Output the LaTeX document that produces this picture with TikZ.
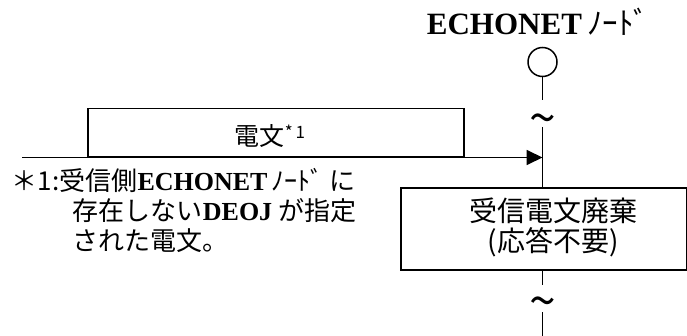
\documentclass[tikz,border=0pt]{standalone}
\usepackage{fontspec}
\setmainfont{Liberation Serif}
\newfontfamily\jp{Noto Sans CJK JP}
\usetikzlibrary{arrows.meta}
\begin{document}
\begin{tikzpicture}[x=1pt,y=-1pt,line width=1.8pt,
  lbl/.style={inner sep=0pt},
  tildemark/.style={inner sep=0pt,font=\jp\fontsize{48}{48}\selectfont},
  notetext/.style={inner sep=0pt,anchor=base west,font=\jp\fontsize{26}{26}\selectfont}]
\useasboundingbox (0,0) rectangle (687,336);
% title
\node[lbl,anchor=base,font=\fontsize{31}{31}\selectfont] (title) at (538,35)
  {\textbf{ECHONET}\,{\jp ﾉｰﾄﾞ}};
% node circle
\node[circle,draw,minimum size=29pt,inner sep=0pt,line width=1.5pt] (obj) at (542.5,62) {};
% lifeline parts
\coordinate (l1) at (542.5,100);
\node[tildemark] (t1) at (542.5,125) {\char"7E};
\coordinate (l2) at (542.5,127);
\node[draw,minimum width=286pt,minimum height=82pt,anchor=north west,inner sep=0pt] (discard) at (400,187) {};
\node[lbl,align=center,font=\jp\fontsize{28}{30}\selectfont] (discardtxt) at (553,227)
  {受信電文廃棄\\(応答不要)};
\coordinate (l4) at (542.5,269);
\coordinate (l5) at (542.5,285);
\node[tildemark] (t2) at (542.5,308) {\char"7E};
\coordinate (l6) at (542.5,312);
\coordinate (l7) at (542.5,336);
\draw (obj.south) -- (l1);
\draw (l2) -- (discard.north -| l2);
\draw (discard.south -| l4) -- (l5);
\draw (l6) -- (l7);
% message
\node[draw,minimum width=376pt,minimum height=48pt,anchor=south west,inner sep=0pt] (msg) at (87,157.5) {};
\node[lbl,font=\jp\fontsize{25}{25}\selectfont] (msgtxt) at (270,136)
  {電文\raisebox{0.3em}{\fontsize{17}{17}\selectfont *\,1}};
\coordinate (a0) at (22,157.5);
\draw[-{Triangle[length=16pt,width=15pt]}] (a0) -- (a0 -| l2);
% footnote
\node[notetext] (n1) at (11,191) {＊1:受信側{\rmfamily\bfseries ECHONET}\,ﾉｰﾄﾞ\ に};
\node[notetext] (n2) at (72,221) {存在しない{\rmfamily\bfseries DEOJ} が指定};
\node[notetext] (n3) at (72,251) {された電文。};
\end{tikzpicture}
\end{document}
